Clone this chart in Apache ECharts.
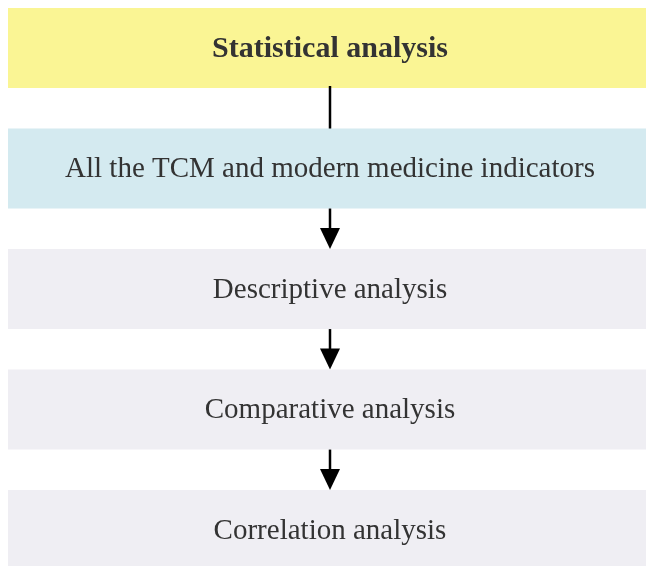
<!DOCTYPE html>
<html>
<head>
<meta charset="utf-8">
<style>
  html, body { margin: 0; padding: 0; background: #fff; }
  #chart { width: 646px; height: 566px; }
</style>
<script src="https://cdn.jsdelivr.net/npm/echarts@6/dist/echarts.min.js"></script>
</head>
<body>
<div id="chart"></div>
<script>
// flow steps, top to bottom
var steps = [
  'Statistical analysis',
  'All the TCM and modern medicine indicators',
  'Descriptive analysis',
  'Comparative analysis',
  'Correlation analysis'
];
var stepColors = ['#faf594', '#d4eaf0', '#efeef3', '#efeef3', '#efeef3'];
var stepBold = [true, false, false, false, false];
// connector below each step (except last): arrowhead or plain line
var hasArrow = [false, true, true, true];

var BOX_H = 0.664; // box height in row units (rest of the row is the gap)

var chart = echarts.init(document.getElementById('chart'));

function renderBox(params, api) {
  var i = api.value(0);
  var p0 = api.coord([0, i]);
  var p1 = api.coord([1, i + BOX_H]);
  var cx = 330;
  var children = [{
    type: 'rect',
    shape: { x: p0[0], y: p0[1], width: p1[0] - p0[0], height: p1[1] - p0[1] },
    style: { fill: stepColors[i] }
  }, {
    type: 'text',
    style: {
      x: cx,
      y: p0[1] + 41,
      text: steps[i],
      fill: '#333333',
      font: (stepBold[i] ? 'bold 30px' : '29px') + ' "Liberation Serif", "Times New Roman", serif',
      align: 'center',
      verticalAlign: 'middle'
    }
  }];
  if (i < steps.length - 1) {
    var top = api.coord([0.5, i + BOX_H]);
    var bot = api.coord([0.5, i + 1]);
    if (hasArrow[i]) {
      children.push({
        type: 'line',
        shape: { x1: cx, y1: top[1], x2: cx, y2: bot[1] - 20 },
        style: { stroke: '#000', lineWidth: 2.5 }
      }, {
        type: 'polygon',
        shape: { points: [[cx - 10, bot[1] - 21], [cx + 10, bot[1] - 21], [cx, bot[1]]] },
        style: { fill: '#000' }
      });
    } else {
      children.push({
        type: 'line',
        shape: { x1: cx, y1: top[1] - 2, x2: cx, y2: bot[1] + 1 },
        style: { stroke: '#000', lineWidth: 2.5 }
      });
    }
  }
  return { type: 'group', children: children };
}

chart.setOption({
  animation: false,
  grid: { left: 8, right: 0, top: 8, bottom: 0 },
  xAxis: { type: 'value', min: 0, max: 1, show: false },
  yAxis: { type: 'value', min: 0, max: 4.63, inverse: true, show: false },
  series: [{
    type: 'custom',
    clip: false,
    renderItem: renderBox,
    data: steps.map(function (s, i) { return [i]; })
  }]
});
</script>
</body>
</html>
